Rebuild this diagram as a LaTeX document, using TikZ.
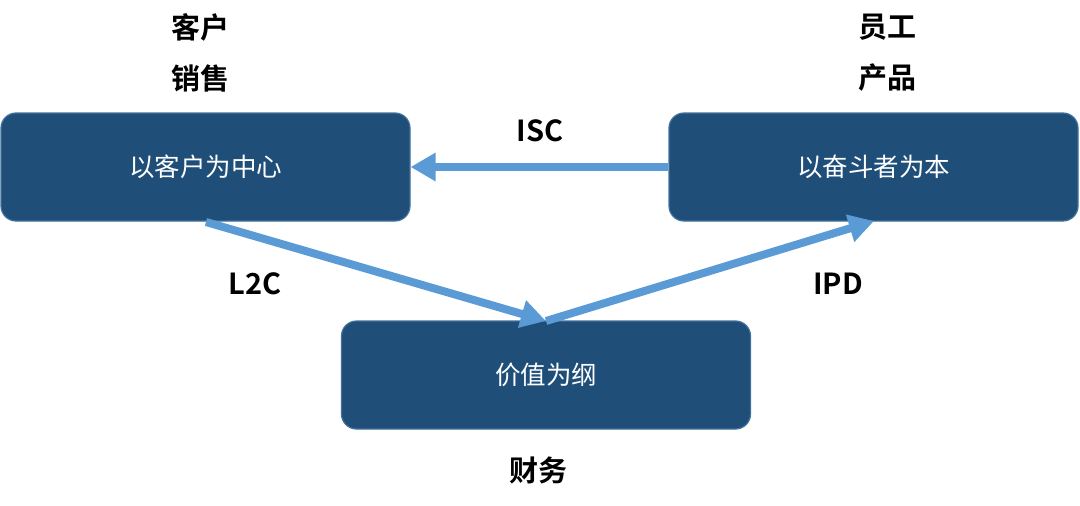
\documentclass[tikz,border=0pt]{standalone}
\usepackage{fontspec}
\usetikzlibrary{arrows.meta}
\newfontfamily\cjk{Noto Sans CJK SC}[BoldFont={Noto Sans CJK SC Bold}]
\definecolor{boxfill}{HTML}{1F4E79}
\definecolor{boxline}{HTML}{41719C}
\definecolor{arrowblue}{HTML}{5B9BD5}
\begin{document}
\begin{tikzpicture}[x=1pt,y=-1pt,
  box/.style={draw=boxline, line width=1.2pt, fill=boxfill, rounded corners=15pt,
    minimum width=409pt, minimum height=108pt, inner sep=0pt,
    text=white, font=\cjk\fontsize{25.5}{30}\selectfont},
  lbl/.style={inner sep=0pt, text=black, font=\cjk\bfseries\fontsize{29}{34}\selectfont},
  flow/.style={draw=arrowblue, line width=8pt,
    -{Triangle[width=27pt,length=25pt,fill=arrowblue]}}]
\useasboundingbox (0,0) rectangle (1080,506);
\node[box] (cust) at (205.5,167) {以客户为中心};
\node[box] (emp) at (873.5,167) {以奋斗者为本};
\node[box] (val) at (546,375) {价值为纲};
\node[lbl] (l1) at (200,27) {客户};
\node[lbl] (l2) at (200,78) {销售};
\node[lbl] (r1) at (887,27) {员工};
\node[lbl] (r2) at (887,78) {产品};
\node[lbl] (b1) at (538,470) {财务};
\node[lbl] (isc) at (540,131) {ISC};
\node[lbl] (l2c) at (255,284) {L2C};
\node[lbl] (ipd) at (838,284) {IPD};
\coordinate (lstart) at (206,222);
\coordinate (vtop) at (546,321);
\coordinate (rtip) at (874,221);
\draw[flow] (emp.west) -- (cust.east);
\draw[flow] (lstart) -- (vtop);
\draw[flow] (vtop) -- (rtip);
\end{tikzpicture}
\end{document}
